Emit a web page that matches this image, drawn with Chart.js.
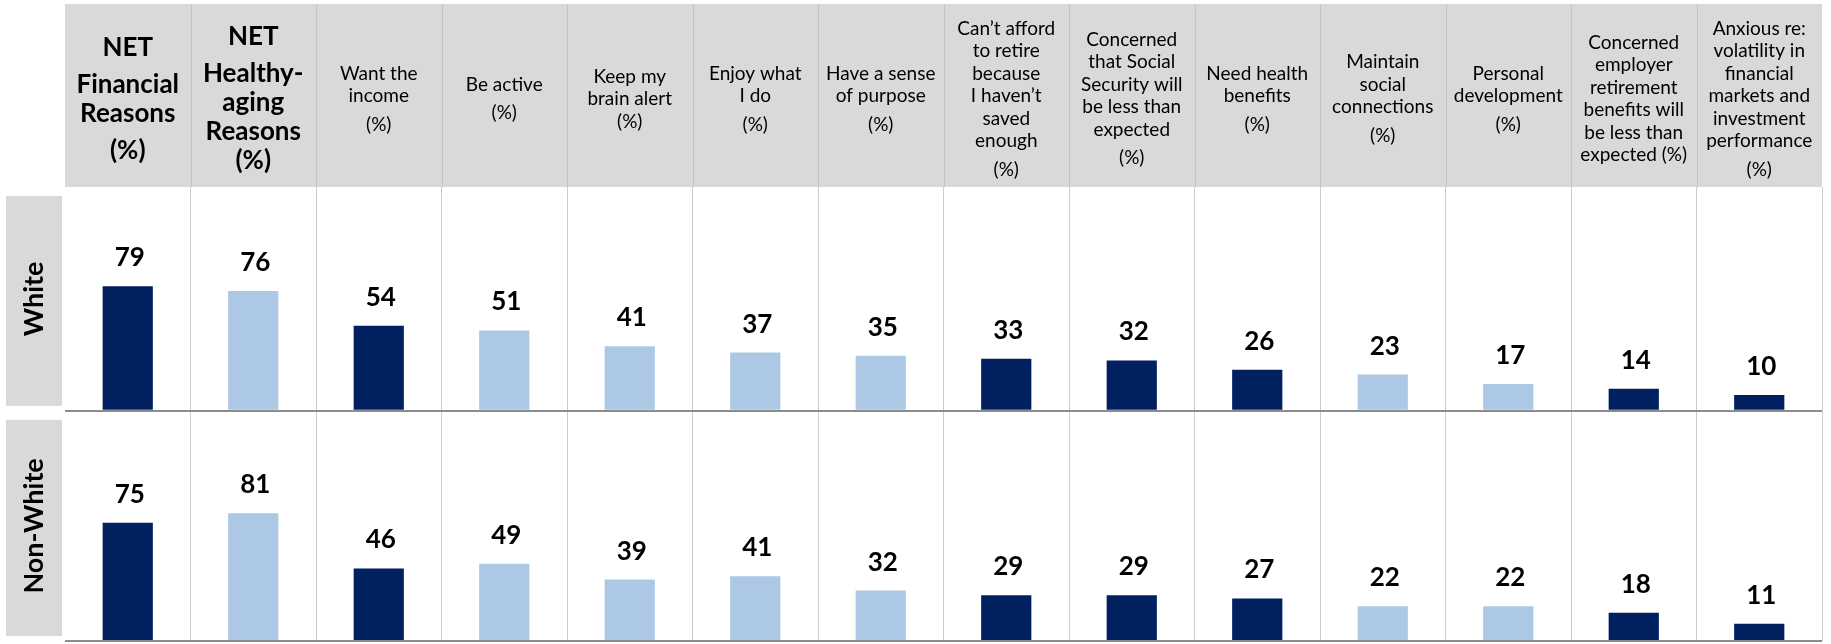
<!DOCTYPE html>
<html>
<head>
<meta charset="utf-8">
<script src="https://cdn.jsdelivr.net/npm/chart.js@4.4.1/dist/chart.umd.min.js"></script>
<style>
  html, body { margin: 0; padding: 0; background: #fff; }
</style>
</head>
<body>
<canvas id="chart" width="1831" height="644"></canvas>
<script>
// header labels: each column is a list of paragraphs, each paragraph a list of lines
const headers = [
  [["NET"], ["Financial", "Reasons"], ["(%)"]],
  [["NET"], ["Healthy-", "aging", "Reasons", "(%)"]],
  [["Want the", "income"], ["(%)"]],
  [["Be active"], ["(%)"]],
  [["Keep my", "brain alert", "(%)"]],
  [["Enjoy what", "I do"], ["(%)"]],
  [["Have a sense", "of purpose"], ["(%)"]],
  [["Can’t afford", "to retire", "because", "I haven’t", "saved", "enough"], ["(%)"]],
  [["Concerned", "that Social", "Security will", "be less than", "expected"], ["(%)"]],
  [["Need health", "benefits"], ["(%)"]],
  [["Maintain", "social", "connections"], ["(%)"]],
  [["Personal", "development"], ["(%)"]],
  [["Concerned", "employer", "retirement", "benefits will", "be less than", "expected (%)"]],
  [["Anxious re:", "volatility in", "financial", "markets and", "investment", "performance"], ["(%)"]]
];
const categories = headers.map(h => h.flat().join(" "));
const reasonType = ["fin", "aging", "fin", "aging", "aging", "aging", "aging",
                    "fin", "fin", "fin", "aging", "aging", "fin", "fin"];
const whiteValues    = [79, 76, 54, 51, 41, 37, 35, 33, 32, 26, 23, 17, 14, 10];
const nonWhiteValues = [75, 81, 46, 49, 39, 41, 32, 29, 29, 27, 22, 22, 18, 11];
const rowLabels = ["White", "Non-White"];

const FONT = "Lato, 'Open Sans', sans-serif";
const DARK = "#002060";
const LIGHT = "#adc8e4";
const barColors = reasonType.map(t => (t === "fin" ? DARK : LIGHT));

// gray header band, header dividers and row label boxes
const backgroundPlugin = {
  id: "backgrounds",
  beforeDraw(chart) {
    const { ctx, scales } = chart;
    const x = scales.x;
    ctx.save();
    ctx.fillStyle = "#d9d9d9";
    ctx.fillRect(x.left, x.top, x.width, x.height);
    ["yW", "yN"].forEach(id => {
      const s = scales[id];
      ctx.fillRect(s.left, s.top + 9, 56, s.height - 14);
    });
    ctx.strokeStyle = "#c4c4c4";
    ctx.lineWidth = 1;
    for (let i = 1; i < headers.length; i++) {
      const px = Math.round(x.getPixelForValue(i - 0.5)) + 0.5;
      ctx.beginPath();
      ctx.moveTo(px, x.top);
      ctx.lineTo(px, x.bottom);
      ctx.stroke();
    }
    ctx.restore();
  }
};

// header text, centred on each category of the x scale
const headerText = {
  id: "headerText",
  afterDraw(chart) {
    const { ctx } = chart;
    const x = chart.scales.x;
    const midY = x.top + 95;
    ctx.save();
    ctx.fillStyle = "#000";
    ctx.textAlign = "center";
    ctx.textBaseline = "middle";
    headers.forEach((paras, i) => {
      const bold = i < 2;
      const lh = bold ? 29 : 22.5;
      const gap = bold ? 8 : 6;
      ctx.font = (bold ? "bold 26px " : "19px ") + FONT;
      const ys = [];
      let y = 0;
      paras.forEach((p, pi) => {
        if (pi > 0) y += gap;
        p.forEach(line => { ys.push([line, y]); y += lh; });
      });
      const span = ys[ys.length - 1][1];
      const cx = x.getPixelForValue(i);
      ys.forEach(([line, ly]) => ctx.fillText(line, cx, midY - span / 2 + ly));
    });
    ctx.restore();
  }
};

// value labels above bars
const valueLabels = {
  id: "valueLabels",
  afterDatasetsDraw(chart) {
    const { ctx } = chart;
    ctx.save();
    ctx.font = "bold 26px " + FONT;
    ctx.fillStyle = "#000";
    ctx.textAlign = "center";
    ctx.textBaseline = "alphabetic";
    chart.data.datasets.forEach((ds, di) => {
      chart.getDatasetMeta(di).data.forEach((bar, i) => {
        ctx.fillText(String(ds.data[i]), bar.x + 2, bar.y - 20);
      });
    });
    ctx.restore();
  }
};

function rowAxis(label, max, weight) {
  return {
    type: "linear",
    position: "left",
    stack: "rows",
    stackWeight: max,
    weight: weight,
    min: 0,
    max: max,
    border: { display: false },
    ticks: { display: false, stepSize: max },
    grid: {
      drawTicks: false,
      lineWidth: 2,
      color: c => (c.tick && c.tick.value === 0 ? "#8c8c8c" : "rgba(0,0,0,0)")
    },
    title: {
      display: true,
      text: label,
      color: "#000",
      font: { family: FONT, size: 27, weight: "bold" },
      padding: { top: 12, bottom: 0 }
    },
    afterFit: s => { s.width = 59; }
  };
}

new Chart(document.getElementById("chart"), {
  type: "bar",
  data: {
    labels: categories,
    datasets: [
      {
        label: rowLabels[0],
        data: whiteValues,
        yAxisID: "yW",
        backgroundColor: barColors,
        grouped: false,
        barPercentage: 0.4,
        categoryPercentage: 1
      },
      {
        label: rowLabels[1],
        data: nonWhiteValues,
        yAxisID: "yN",
        backgroundColor: barColors,
        grouped: false,
        barPercentage: 0.4,
        categoryPercentage: 1
      }
    ]
  },
  options: {
    responsive: false,
    devicePixelRatio: 1,
    animation: false,
    layout: { padding: { top: 4, left: 6, right: 9, bottom: 3 } },
    plugins: { legend: { display: false }, tooltip: { enabled: false } },
    scales: {
      x: {
        position: "top",
        offset: true,
        border: { display: false },
        grid: {
          offset: true,
          drawTicks: false,
          lineWidth: 1,
          color: c => (c.index === 0 ? "rgba(0,0,0,0)" : "#cccccc")
        },
        ticks: { display: false },
        afterFit: s => { s.height = 183; }
      },
      yW: rowAxis(rowLabels[0], 142, 2),
      yN: rowAxis(rowLabels[1], 146, 1)
    }
  },
  plugins: [backgroundPlugin, headerText, valueLabels]
});
</script>
</body>
</html>
